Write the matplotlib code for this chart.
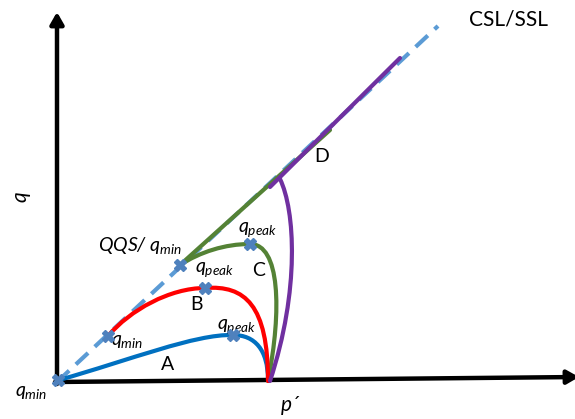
import matplotlib
matplotlib.use('Agg')
import matplotlib.pyplot as plt
from matplotlib.path import Path
from matplotlib.patches import PathPatch

plt.rcParams['font.family'] = ['Lato', 'DejaVu Sans']
plt.rcParams['mathtext.fontset'] = 'custom'
plt.rcParams['mathtext.it'] = 'Lato:italic'
plt.rcParams['mathtext.rm'] = 'Lato'

# critical / steady state line (p', q)
cslP = [0, 381]
cslQ = [0, 356]

# stress paths as cubic bezier control points (p', q)
pathA = [(2, 2), (73, 22), (138, 48), (176, 47), (198, 47), (211, 32), (211, 2)]
pathB = [(211, 1), (211, 77), (188, 97), (148, 94), (113, 94), (73, 72), (51, 46)]
pathC = [(211, 1), (225, 72), (223, 138), (193, 138), (168, 138), (143, 130), (123, 117)]
pathD = [(213, 1), (243, 92), (238, 172), (223, 203)]

# parts of C and D running along the CSL
lineC = [(123, 117), (273, 252)]
lineD = [(213, 195), (343, 324)]

# q_min / q_peak / QQS points
markP = [1, 51, 123, 148, 193, 176]
markQ = [2, 46, 117, 94, 138, 47]

colA = '#0070C0'
colB = '#FF0000'
colC = '#548235'
colD = '#7030A0'
colCsl = '#5B9BD5'
colMark = '#4F81BD'

fig = plt.figure(figsize=(5.75, 4.19), dpi=100)
ax = fig.add_axes([0, 0, 1, 1])
ax.set_xlim(-57, 518)
ax.set_ylim(-37, 382)
ax.axis('off')

# axes with arrow heads
arrow = dict(arrowstyle='-|>,head_length=0.7,head_width=0.4', lw=3.2, color='black',
             shrinkA=0, shrinkB=0)
ax.annotate('', xy=(0, 370), xytext=(0, -2), arrowprops=arrow, annotation_clip=False)
ax.annotate('', xy=(522, 5), xytext=(-2, 0), arrowprops=arrow, annotation_clip=False)

ax.plot(cslP, cslQ, color=colCsl, lw=3, dashes=(4, 2.2), zorder=2)


def bezier(pts, color):
    codes = [Path.MOVETO] + [Path.CURVE4] * (len(pts) - 1)
    ax.add_patch(PathPatch(Path(pts, codes), fill=False, edgecolor=color,
                           lw=3, capstyle='round', zorder=3))


ax.plot(*zip(*lineC), color=colC, lw=3, solid_capstyle='round', zorder=3)
bezier(pathA, colA)
bezier(pathC, colC)
bezier(pathB, colB)
ax.plot(*zip(*lineD), color=colD, lw=3, solid_capstyle='round', zorder=4)
bezier(pathD, colD)

ax.plot(markP, markQ, ls='none', marker='X', ms=9, color=colMark,
        markeredgecolor=colMark, zorder=5)

ax.text(451, 362, 'CSL/SSL', fontsize=15, ha='center', va='center')
ax.text(265, 225, 'D', fontsize=14, ha='center', va='center')
ax.text(202, 112, 'C', fontsize=14, ha='center', va='center')
ax.text(140, 77, 'B', fontsize=14, ha='center', va='center')
ax.text(111, 18, 'A', fontsize=14, ha='center', va='center')

ax.text(181, 152, r'$q_{peak}$', fontsize=14, ha='left', va='center')
ax.text(138, 112, r'$q_{peak}$', fontsize=14, ha='left', va='center')
ax.text(160, 55, r'$q_{peak}$', fontsize=14, ha='left', va='center')
ax.text(54, 41, r'$q_{min}$', fontsize=14, ha='left', va='center')
ax.text(-42, -10, r'$q_{min}$', fontsize=14, ha='left', va='center')
ax.text(41, 136, r'QQS/ $q_{min}$', fontsize=14, ha='left', va='center',
        fontstyle='italic')

ax.text(-37, 185, 'q', fontsize=15, fontstyle='italic', rotation=90,
        ha='center', va='center')
ax.text(233, -23, 'p´', fontsize=15, fontstyle='italic', ha='center', va='center')

fig.savefig('out.png', dpi=100)
